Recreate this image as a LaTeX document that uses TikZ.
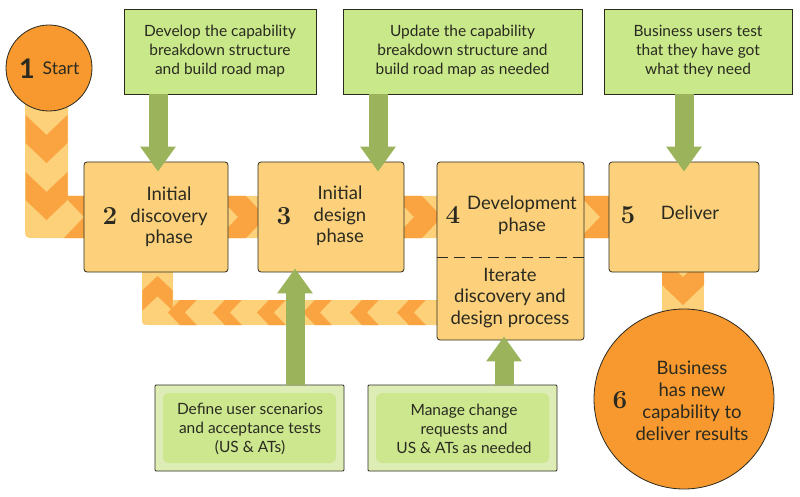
\documentclass[tikz,border=0pt]{standalone}
\usepackage{fontspec}
\setmainfont{Lato}
\newfontfamily\numFont{Latin Modern Roman}
\usetikzlibrary{arrows.meta}
\definecolor{boxOrange}{HTML}{FDD17B}
\definecolor{bandOrange}{HTML}{FDD07A}
\definecolor{chevOrange}{HTML}{F9A440}
\definecolor{circOrange}{HTML}{F7992F}
\definecolor{topGreen}{HTML}{C8E88A}
\definecolor{paleGreen}{HTML}{DEEDB6}
\definecolor{glowGreen}{HTML}{CCE78E}
\definecolor{stemGreen}{HTML}{9BB35A}
\definecolor{lineDark}{HTML}{2A2A20}
\newcommand{\chevron}[4]{%%
  %% One chevron of a flow band: tip x, tip y, direction, size.
  \begin{scope}[shift={(#1,#2)},rotate=#3,scale=#4]
    \fill[chevStyle] (-48,-21) -- (-28,0) -- (-48,21) -- (-20,21) -- (0,0) -- (-20,-21) -- cycle;
  \end{scope}%%
}
\newcommand{\stepNumber}[3]{%%
  \node[numStyle] (#1) at (#2) {#3};
}
\begin{document}
\begin{tikzpicture}[%%
  x=1pt,y=-1pt,
  bandStyle/.style={fill=bandOrange},%%
  chevStyle/.style={fill=chevOrange},%%
  phaseBox/.style={draw=lineDark,fill=boxOrange,rounded corners=3pt,line width=0.8pt,inner sep=0pt},%%
  phaseText/.style={align=center,inner sep=0pt,font=\fontsize{18.5}{21.5}\selectfont,text=lineDark},%%
  numStyle/.style={inner sep=0pt,font=\numFont\bfseries\fontsize{26}{26}\selectfont,text=lineDark},%%
  stepCircle/.style={circle,draw=lineDark,fill=circOrange,line width=0.8pt,inner sep=0pt},%%
  ideaBox/.style={draw=lineDark,fill=topGreen,line width=0.8pt,align=center,inner sep=0pt,
    minimum height=85pt,font=\fontsize{15.5}{19}\selectfont,text=lineDark},%%
  testBox/.style={draw=lineDark,fill=paleGreen,line width=0.8pt,rounded corners=1pt,inner sep=0pt,
    minimum width=189pt,minimum height=86pt,
    path picture={\fill[glowGreen,rounded corners=6pt]
      ([shift={(8pt,-8pt)}]path picture bounding box.north west) rectangle
      ([shift={(-8pt,8pt)}]path picture bounding box.south east);}},%%
  testText/.style={align=center,inner sep=0pt,font=\fontsize{15.5}{19}\selectfont,text=lineDark},%%
  stemArrow/.style={draw=stemGreen,line width=19pt,-{Triangle[width=34pt,length=25pt]}}
]
\useasboundingbox (0,0) rectangle (800,497);
%%
%% Main flow band from the start to the delivery.
\begin{scope}
  \clip (25,60) -- (25,228) .. controls (25,238) .. (35,238) -- (620,238) -- (620,196) -- (68,196) -- (68,60) -- cycle;
  \fill[bandStyle] (0,0) rectangle (640,260);
  \chevron{46.5}{163}{-90}{1}
  \chevron{46.5}{220}{-90}{1}
  \chevron{112}{217}{0}{1}
  \chevron{266}{217}{0}{1}
  \chevron{442}{217}{0}{1}
  \chevron{628}{217}{0}{1}
\end{scope}
%% Band down to the result.
\begin{scope}
  \clip (662,260) rectangle (704,330);
  \fill[bandStyle] (662,260) rectangle (704,330);
  \chevron{683}{305}{-90}{1}
\end{scope}
%% Return band of the iterations.
\begin{scope}
  \clip (450,300) -- (173,300) -- (173,265) -- (142,265) -- (142,317) .. controls (142,325) .. (150,325) -- (450,325) -- cycle;
  \fill[bandStyle] (130,260) rectangle (460,330);
  \chevron{157.5}{276}{90}{0.72}
  \foreach \tipx in {168,213,257,303,350,397}{
    \chevron{\tipx}{312.5}{180}{0.6}
  }
\end{scope}
%%
%% Phase boxes.
\node[phaseBox,minimum width=144pt,minimum height=110pt] (discovery) at (156,217) {};
\node[phaseBox,minimum width=146pt,minimum height=110pt] (design) at (331,217) {};
\node[phaseBox,minimum width=147pt,minimum height=178pt] (develop) at (510.5,251) {};
\node[phaseBox,minimum width=150pt,minimum height=110pt] (deliver) at (684,217) {};
\draw[lineDark,line width=0.8pt,dash pattern=on 11pt off 6pt]
  ([yshift=-6pt]develop.west) -- ([yshift=-6pt]develop.east);
\stepNumber{num2}{110,216}{2}
\node[phaseText] (txt2) at (169,217) {Initial\\discovery\\phase};
\stepNumber{num3}{284,216}{3}
\node[phaseText] (txt3) at (340,216) {Initial\\design\\phase};
\stepNumber{num4}{453,215}{4}
\node[phaseText] (txt4) at (522,215.5) {Development\\phase};
\node[phaseText] (iterate) at (510,298) {Iterate\\discovery and\\design process};
\stepNumber{num5}{628,215}{5}
\node[phaseText] (txt5) at (690,213) {Deliver};
%%
%% Start and result circles.
\node[stepCircle,minimum size=86pt] (start) at (49,68) {};
\node[inner sep=0pt,font=\bfseries\fontsize{27}{27}\selectfont,text=lineDark] (num1) at (27,69) {1};
\node[inner sep=0pt,font=\fontsize{17.5}{17.5}\selectfont,text=lineDark] (txt1) at (61,68) {Start};
\node[stepCircle,minimum size=180pt] (result) at (684,399) {};
\stepNumber{num6}{620,400}{6}
\node[phaseText,font=\fontsize{18.5}{22}\selectfont] (txt6) at (692,401) {Business\\has new\\capability to\\deliver results};
%%
%% Planning boxes on top.
\node[ideaBox,minimum width=192pt] (devMap) at (220,51.5)
  {Develop the capability\\breakdown structure\\and build road map};
\node[ideaBox,minimum width=239pt] (updMap) at (462.5,51.5)
  {Update the capability\\breakdown structure and\\build road map as needed};
\node[ideaBox,minimum width=188pt] (userTest) at (698,51.5)
  {Business users test\\that they have got\\what they need};
%%
%% Scenario boxes below.
\node[testBox] (defUS) at (249.5,428) {};
\node[testText] (defText) at (250,429) {Define user scenarios\\and acceptance tests\\(US \& ATs)};
\node[testBox] (mngCR) at (462.5,428) {};
\node[testText] (mngText) at (464,429) {Manage change\\requests and\\US \& ATs as needed};
%%
%% Green arrows into the phases.
\draw[stemArrow] ([xshift=-62pt]devMap.south) -- ([xshift=2pt,yshift=-10pt]discovery.north);
\draw[stemArrow] ([xshift=-84.5pt]updMap.south) -- ([xshift=47pt,yshift=-10pt]design.north);
\draw[stemArrow] ([xshift=-14pt]userTest.south) -- ([yshift=-10pt]deliver.north);
\draw[stemArrow] ([xshift=45.5pt]defUS.north) -- ([xshift=-36pt,yshift=4pt]design.south);
\draw[stemArrow] ([xshift=41.5pt]mngCR.north) -- ([xshift=-6.5pt,yshift=4pt]develop.south);
\end{tikzpicture}
\end{document}
